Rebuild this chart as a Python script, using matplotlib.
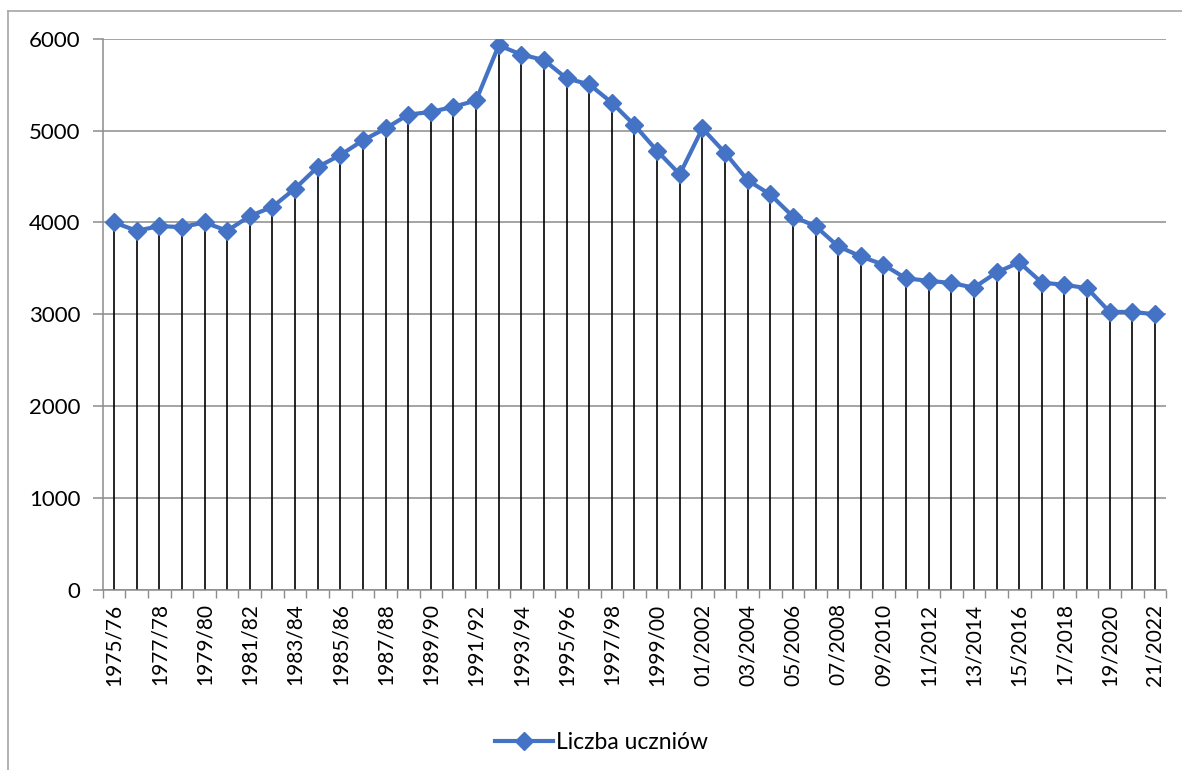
import matplotlib
matplotlib.use("Agg")
import matplotlib.pyplot as plt
from matplotlib.lines import Line2D

plt.rcParams['font.family'] = ['Lato', 'DejaVu Sans']

# school years (categories)
years = ['1975/76', '1976/77', '1977/78', '1978/79', '1979/80', '1980/81',
         '1981/82', '1982/83', '1983/84', '1984/85', '1985/86', '1986/87',
         '1987/88', '1988/89', '1989/90', '1990/91', '1991/92', '1992/93',
         '1993/94', '1994/95', '1995/96', '1996/97', '1997/98', '1998/99',
         '1999/00', '00/2001', '01/2002', '02/2003', '03/2004', '04/2005',
         '05/2006', '06/2007', '07/2008', '08/2009', '09/2010', '10/2011',
         '11/2012', '12/2013', '13/2014', '14/2015', '15/2016', '16/2017',
         '17/2018', '18/2019', '19/2020', '20/2021', '21/2022']

# number of pupils
pupils = [4000, 3910, 3960, 3950, 4000, 3910, 4070, 4170, 4370, 4605,
          4735, 4895, 5025, 5175, 5205, 5260, 5330, 5930, 5830, 5770,
          5570, 5505, 5305, 5060, 4780, 4525, 5025, 4760, 4460, 4305,
          4065, 3960, 3740, 3630, 3540, 3390, 3365, 3340, 3290, 3455,
          3565, 3345, 3320, 3285, 3025, 3025, 3000]

y_ticks = [0, 1000, 2000, 3000, 4000, 5000, 6000]

blue = '#4472C4'
x = list(range(len(years)))

fig = plt.figure(figsize=(11.82, 7.70), dpi=100)
ax = fig.add_axes([0.0869, 0.2344, 0.8998, 0.715])

# drop lines
ax.vlines(x, 0, pupils, color='black', lw=1.2, zorder=2)
ax.plot(x, pupils, color=blue, lw=3, marker='D', markersize=9,
        markeredgecolor=blue, zorder=3, label='Liczba uczniów')

ax.set_xlim(-0.5, len(years) - 0.5)
ax.set_ylim(0, 6000)
ax.set_yticks(y_ticks)
ax.set_yticklabels([str(v) for v in y_ticks], fontsize=16)
ax.grid(axis='y', color='#8c8c8c', lw=1.1, zorder=0)
ax.tick_params(axis='y', length=7, width=1.1, color='#8c8c8c', pad=9)

ax.set_xticks(x[::2])
ax.set_xticklabels(years[::2], rotation=90, fontsize=15)
ax.set_xticks([i + 0.5 for i in range(-1, len(years))], minor=True)
ax.tick_params(axis='x', which='major', length=0, pad=10)
ax.tick_params(axis='x', which='minor', length=6, width=1, color='#8c8c8c')

for s in ['top', 'right']:
    ax.spines[s].set_visible(False)
for s in ['left', 'bottom']:
    ax.spines[s].set_color('#8c8c8c')
    ax.spines[s].set_linewidth(1.1)

leg = fig.legend(loc='center', bbox_to_anchor=(0.509, 0.036), frameon=False,
                 fontsize=16.5, handlelength=2.5, handletextpad=0.15)

# chart area border (left and top visible)
fig.add_artist(Line2D([8 / 1182, 8 / 1182], [0, 1 - 11 / 770],
                      transform=fig.transFigure, color='#a6a6a6', lw=1.2))
fig.add_artist(Line2D([8 / 1182, 1], [1 - 11 / 770, 1 - 11 / 770],
                      transform=fig.transFigure, color='#a6a6a6', lw=1.2))

fig.savefig('out.png', dpi=100)
